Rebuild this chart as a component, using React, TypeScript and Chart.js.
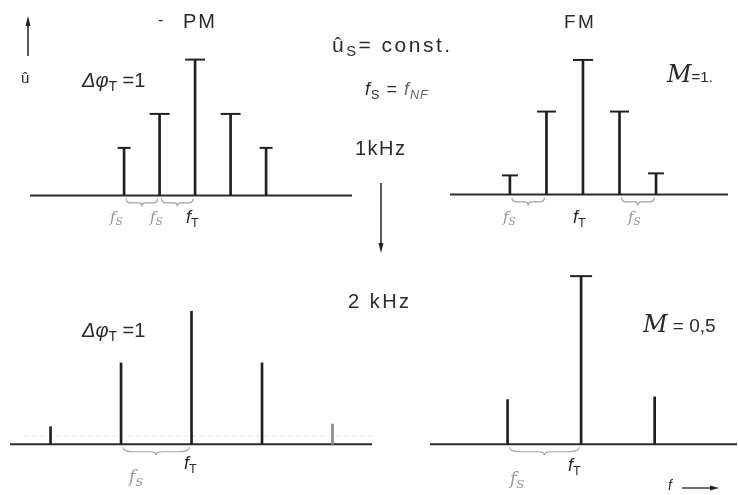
import React, { useEffect, useRef } from "react";
import { Chart, registerables } from "chart.js";

Chart.register(...registerables);

// Frequency offsets from the carrier f_T, in kHz
const offsets1k = [-2, -1, 0, 1, 2];
const offsetsPM2k = [-4, -2, 0, 2, 4];
const offsetsFM2k = [-2, 0, 2];

// Line amplitudes (relative, carrier of PM 1 kHz = 1)
const pmAmp1k = [0.35, 0.6, 1.0, 0.6, 0.35];
const fmAmp1k = [0.14, 0.61, 0.99, 0.61, 0.155];
const pmAmp2k = [0.13, 0.6, 0.98, 0.6, 0.15];
const fmAmp2k = [0.33, 1.24, 0.35];

// Which lines carry a "T" cap
const pmCaps1k = [true, true, true, true, true];
const fmCaps1k = [true, true, true, true, true];
const pmCaps2k = [false, false, false, false, false];
const fmCaps2k = [false, true, false];

// Braces marking f_S spacing (kHz offsets)
const pmBraces1k = [[-2, -1], [-1, 0]];
const fmBraces1k = [[-2, -1], [1, 2]];
const pmBraces2k = [[-2, 0]];
const fmBraces2k = [[-2, 0]];

type Panel = {
  offsets: number[];
  amps: number[];
  caps: boolean[];
  braces: number[][];
  cx: number;
  base: number;
  pxX: number;
  pxY: number;
  xMin: number;
  xMax: number;
  yMin: number;
  yMax: number;
  capR: number[];
  colors: string[];
  guide?: number;
};

function drawBrace(ctx: CanvasRenderingContext2D, x1: number, x2: number, y: number, h: number) {
  const w = x2 - x1;
  const m = (x1 + x2) / 2;
  const yc = y + h * 0.55;
  ctx.beginPath();
  ctx.moveTo(x1, y);
  ctx.quadraticCurveTo(x1, yc, x1 + w * 0.15, yc);
  ctx.lineTo(m - w * 0.1, yc);
  ctx.quadraticCurveTo(m, yc, m, y + h);
  ctx.quadraticCurveTo(m, yc, m + w * 0.1, yc);
  ctx.lineTo(x2 - w * 0.15, yc);
  ctx.quadraticCurveTo(x2, yc, x2, y);
  ctx.stroke();
}

const decor = {
  id: "decor",
  beforeDatasetsDraw(chart: any, _args: any, opts: any) {
    const { ctx, chartArea, scales } = chart;
    const x = scales.x;
    const y = scales.y;
    const y0 = y.getPixelForValue(0);
    ctx.save();
    if (opts.guide != null) {
      const yg = y.getPixelForValue(opts.guide);
      ctx.strokeStyle = "rgba(120,120,120,0.35)";
      ctx.lineWidth = 1;
      ctx.setLineDash([2, 6]);
      ctx.beginPath();
      ctx.moveTo(chartArea.left + 15, yg);
      ctx.lineTo(chartArea.right, yg);
      ctx.stroke();
      ctx.setLineDash([]);
    }
    ctx.strokeStyle = "#2b2b2b";
    ctx.lineWidth = 2;
    ctx.beginPath();
    ctx.moveTo(chartArea.left, y0);
    ctx.lineTo(chartArea.right, y0);
    ctx.stroke();
    ctx.strokeStyle = "#9aa59c";
    ctx.lineWidth = 1.2;
    for (const [a, b] of opts.braces || []) {
      drawBrace(ctx, x.getPixelForValue(a) + 2, x.getPixelForValue(b) - 2, y0 + 3, 8);
    }
    ctx.restore();
  },
};

function SpectrumPanel({ p }: { p: Panel }) {
  const ref = useRef<HTMLCanvasElement | null>(null);
  const left = Math.round(p.cx + p.xMin * p.pxX);
  const width = Math.round((p.xMax - p.xMin) * p.pxX);
  const top = Math.round(p.base - p.yMax * p.pxY);
  const height = Math.round((p.yMax - p.yMin) * p.pxY);

  useEffect(() => {
    if (!ref.current) return;
    const pts = p.offsets.map((x, i) => ({ x, y: p.amps[i] }));
    const capPts = pts.filter((_, i) => p.caps[i]);
    const capR = p.capR.filter((_, i) => p.caps[i]);
    const chart = new Chart(ref.current, {
      type: "bar",
      data: {
        datasets: [
          {
            type: "bar",
            data: pts,
            backgroundColor: p.colors,
            borderWidth: 0,
            barThickness: 2,
          } as any,
          {
            type: "scatter",
            data: capPts,
            pointStyle: "line",
            pointRadius: capR,
            pointHoverRadius: capR,
            pointBorderColor: "#222",
            borderColor: "#222",
            pointBorderWidth: 2,
            borderWidth: 2,
          } as any,
        ],
      },
      options: {
        animation: false,
        responsive: false,
        events: [],
        layout: { padding: 0, autoPadding: false },
        plugins: {
          legend: { display: false },
          tooltip: { enabled: false },
          decor: { braces: p.braces, guide: p.guide },
        } as any,
        scales: {
          x: { type: "linear", min: p.xMin, max: p.xMax, display: false, offset: false },
          y: { type: "linear", min: p.yMin, max: p.yMax, display: false },
        },
      } as any,
      plugins: [decor],
    });
    return () => chart.destroy();
  }, []);

  return (
    <canvas
      ref={ref}
      width={width}
      height={height}
      style={{ position: "absolute", left, top, width, height }}
    />
  );
}

const dark = "#1e1e1e";
const faint = "#8a8a8a";

const panels: Panel[] = [
  {
    offsets: offsets1k, amps: pmAmp1k, caps: pmCaps1k, braces: pmBraces1k,
    cx: 195, base: 196, pxX: 35.5, pxY: 136, xMin: -4.65, xMax: 4.42, yMin: -0.1, yMax: 1.1,
    capR: [6.5, 10, 10, 10, 6.5], colors: [dark, dark, dark, dark, dark],
  },
  {
    offsets: offsets1k, amps: fmAmp1k, caps: fmCaps1k, braces: fmBraces1k,
    cx: 583, base: 195, pxX: 36.5, pxY: 136, xMin: -3.64, xMax: 3.97, yMin: -0.1, yMax: 1.1,
    capR: [8, 9.5, 10, 9.5, 8], colors: [dark, dark, dark, dark, dark],
  },
  {
    offsets: offsetsPM2k, amps: pmAmp2k, caps: pmCaps2k, braces: pmBraces2k,
    cx: 191.5, base: 445, pxX: 35.25, pxY: 136, xMin: -5.15, xMax: 5.12, yMin: -0.13, yMax: 1.1,
    capR: [0, 0, 0, 0, 0], colors: [dark, dark, dark, dark, faint], guide: 0.06,
  },
  {
    offsets: offsetsFM2k, amps: fmAmp2k, caps: fmCaps2k, braces: fmBraces2k,
    cx: 581, base: 445, pxX: 36.75, pxY: 136, xMin: -4.11, xMax: 4.24, yMin: -0.13, yMax: 1.3,
    capR: [0, 11, 0], colors: [dark, dark, dark],
  },
];

const T = (style: React.CSSProperties, children: React.ReactNode) => (
  <div style={{ position: "absolute", lineHeight: 1, whiteSpace: "nowrap", ...style }}>{children}</div>
);

const sub: React.CSSProperties = { fontSize: "0.7em", verticalAlign: "-0.3em" };
const pencil = "#8e9a92";
const serif = '"DejaVu Serif", serif';
const sans = '"Liberation Sans", "DejaVu Sans", sans-serif';

export default function App() {
  useEffect(() => {
    document.body.style.margin = "0";
  }, []);
  return (
    <div
      style={{
        position: "fixed", left: 0, top: 0, width: 738, height: 495, background: "#fff",
        overflow: "hidden", fontFamily: sans, color: "#2a2a2a",
      }}
    >
      {panels.map((p, i) => <SpectrumPanel key={i} p={p} />)}

      <svg width={738} height={495} style={{ position: "absolute", left: 0, top: 0, pointerEvents: "none" }}>
        <line x1={28} y1={56} x2={28} y2={24} stroke="#222" strokeWidth={1.5} />
        <polygon points="28,16 25.5,26 30.5,26" fill="#222" />
        <line x1={381} y1={183} x2={381} y2={244} stroke="#222" strokeWidth={1.5} />
        <polygon points="381,253 378.5,243 383.5,243" fill="#222" />
        <line x1={682} y1={488} x2={712} y2={488} stroke="#222" strokeWidth={1.3} />
        <polygon points="719,488 710,485.5 710,490.5" fill="#222" />
      </svg>

      {T({ left: 158, top: 12, fontSize: 16 }, "-")}
      {T({ left: 183, top: 11, fontSize: 20, letterSpacing: 2 }, "PM")}
      {T({ left: 564, top: 12, fontSize: 19, letterSpacing: 2.5 }, "FM")}
      {T({ left: 332, top: 34, fontSize: 21, letterSpacing: 2.5 }, <>û<span style={sub}>S</span>= const.</>)}
      {T({ left: 365, top: 80, fontSize: 18, letterSpacing: 1 }, <><i>f</i><span style={sub}>S</span> = <i style={{ color: "#666" }}>f</i><span style={{ ...sub, fontStyle: "italic", color: "#666" }}>NF</span></>)}
      {T({ left: 355, top: 138, fontSize: 20, letterSpacing: 1.5 }, "1kHz")}
      {T({ left: 348, top: 291, fontSize: 20, letterSpacing: 2.5 }, "2 kHz")}
      {T({ left: 21, top: 70, fontSize: 15 }, "û")}
      {T({ left: 82, top: 70, fontSize: 20 }, <><i>Δφ</i><span style={sub}>T</span> =1</>)}
      {T({ left: 82, top: 320, fontSize: 20 }, <><i>Δφ</i><span style={sub}>T</span> =1</>)}
      {T({ left: 667, top: 62, fontSize: 24, fontStyle: "italic", fontFamily: serif }, <>M<span style={{ fontSize: 15, fontStyle: "normal", fontFamily: sans }}>=1.</span></>)}
      {T({ left: 643, top: 312, fontSize: 24, fontStyle: "italic", fontFamily: serif }, <>M<span style={{ fontSize: 19, fontStyle: "normal", fontFamily: sans }}> = 0,5</span></>)}

      {T({ left: 110, top: 210, fontSize: 15, color: pencil, fontStyle: "italic", fontFamily: serif }, <>f<span style={sub}>S</span></>)}
      {T({ left: 150, top: 210, fontSize: 15, color: pencil, fontStyle: "italic", fontFamily: serif }, <>f<span style={sub}>S</span></>)}
      {T({ left: 186, top: 208, fontSize: 18, fontStyle: "italic" }, <>f<span style={{ ...sub, fontStyle: "normal" }}>T</span></>)}

      {T({ left: 503, top: 210, fontSize: 15, color: pencil, fontStyle: "italic", fontFamily: serif }, <>f<span style={sub}>S</span></>)}
      {T({ left: 573, top: 208, fontSize: 18, fontStyle: "italic" }, <>f<span style={{ ...sub, fontStyle: "normal" }}>T</span></>)}
      {T({ left: 628, top: 210, fontSize: 15, color: pencil, fontStyle: "italic", fontFamily: serif }, <>f<span style={sub}>S</span></>)}

      {T({ left: 129, top: 468, fontSize: 17, color: pencil, fontStyle: "italic", fontFamily: serif }, <>f<span style={sub}>S</span></>)}
      {T({ left: 184, top: 454, fontSize: 18, fontStyle: "italic" }, <>f<span style={{ ...sub, fontStyle: "normal" }}>T</span></>)}
      {T({ left: 510, top: 470, fontSize: 17, color: pencil, fontStyle: "italic", fontFamily: serif }, <>f<span style={sub}>S</span></>)}
      {T({ left: 568, top: 456, fontSize: 18, fontStyle: "italic" }, <>f<span style={{ ...sub, fontStyle: "normal" }}>T</span></>)}
      {T({ left: 668, top: 478, fontSize: 14, fontStyle: "italic" }, "f")}
    </div>
  );
}
